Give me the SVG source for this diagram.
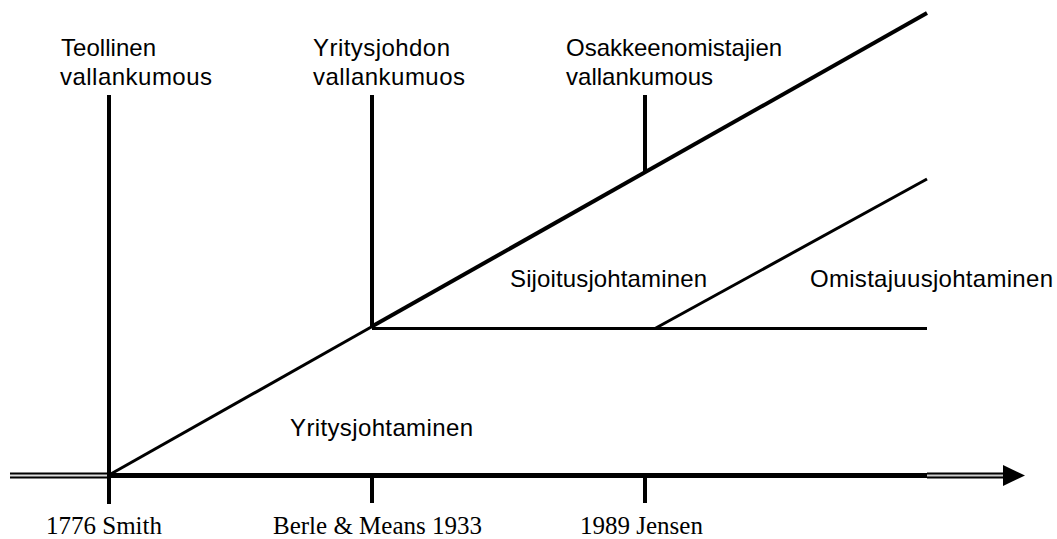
<svg xmlns="http://www.w3.org/2000/svg" width="1057" height="539" viewBox="0 0 1057 539">
<style>
.ln{stroke:#000;fill:none;stroke-linecap:butt}
.s{font-family:"Liberation Sans",Arial,sans-serif;font-size:24px;fill:#000}
.t{font-family:"Liberation Serif","Times New Roman",serif;font-size:25px;fill:#000}
</style>
<rect width="1057" height="539" fill="#fff"/>
<g id="connectors">
<line class="ln" x1="10" y1="475.5" x2="109" y2="475.5" stroke-width="6"/>
<line x1="10" y1="475.5" x2="109" y2="475.5" stroke="#ddd" stroke-width="2"/>
<line class="ln" x1="109" y1="475.5" x2="928" y2="475.5" stroke-width="5"/>
<line class="ln" x1="927" y1="475.5" x2="1005" y2="475.5" stroke-width="6"/>
<line x1="927" y1="475.5" x2="1005" y2="475.5" stroke="#ccc" stroke-width="2"/>
<polygon points="1003,465 1025,475.5 1003,486" fill="#000"/>
<line class="ln" x1="109" y1="95" x2="109" y2="504" stroke-width="4"/>
<line class="ln" x1="372" y1="95" x2="372" y2="328" stroke-width="4"/>
<line class="ln" x1="372" y1="476" x2="372" y2="503" stroke-width="4"/>
<line class="ln" x1="645" y1="95" x2="645" y2="173" stroke-width="4"/>
<line class="ln" x1="645" y1="476" x2="645" y2="503" stroke-width="4"/>
<line class="ln" x1="109" y1="475" x2="373" y2="326" stroke-width="3"/>
<line class="ln" x1="371" y1="327" x2="927" y2="13" stroke-width="4"/>
<line class="ln" x1="372" y1="328.5" x2="927" y2="328.5" stroke-width="3"/>
<line class="ln" x1="655" y1="328.5" x2="927" y2="179" stroke-width="3"/>
</g>
<g id="n-teollinen"><text class="s" x="61" y="56" textLength="95">Teollinen</text><text class="s" x="60" y="85" textLength="152">vallankumous</text></g>
<g id="n-yritysjohdon"><text class="s" x="313" y="56" textLength="137">Yritysjohdon</text><text class="s" x="313" y="85" textLength="152">vallankumuos</text></g>
<g id="n-osakkeen"><text class="s" x="566" y="56">Osakkeenomistajien</text><text class="s" x="566" y="85" textLength="147">vallankumous</text></g>
<g id="n-sijoitus"><text class="s" x="510" y="287" textLength="197">Sijoitusjohtaminen</text></g>
<g id="n-omistajuus"><text class="s" x="810" y="287" textLength="243">Omistajuusjohtaminen</text></g>
<g id="n-yritys"><text class="s" x="290" y="436" textLength="183">Yritysjohtaminen</text></g>
<g id="n-smith"><text class="t" x="46" y="534">1776 Smith</text></g>
<g id="n-berle"><text class="t" x="273" y="534">Berle &amp; Means 1933</text></g>
<g id="n-jensen"><text class="t" x="580" y="534">1989 Jensen</text></g>
</svg>
